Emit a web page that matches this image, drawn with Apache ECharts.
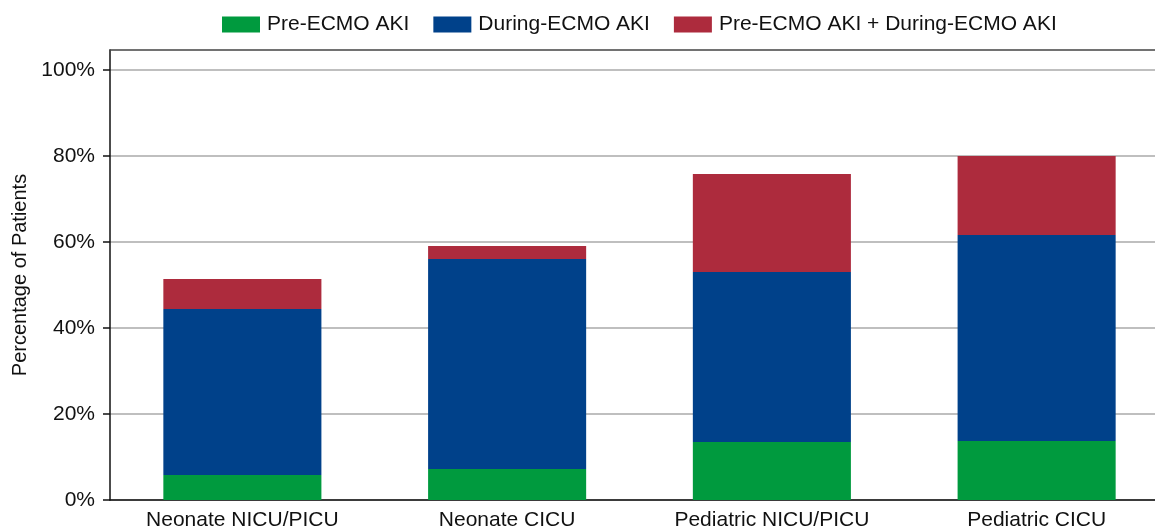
<!DOCTYPE html>
<html>
<head>
<meta charset="utf-8">
<script src="https://cdn.jsdelivr.net/npm/echarts@6/dist/echarts.min.js"></script>
<style>
  html, body { margin: 0; padding: 0; background: #fff; }
  #chart { width: 1155px; height: 527px; }
</style>
</head>
<body>
<div id="chart"></div>
<script>
let categories = ['Neonate NICU/PICU', 'Neonate CICU', 'Pediatric NICU/PICU', 'Pediatric CICU']
let seriesNames = ['Pre-ECMO AKI', 'During-ECMO AKI', 'Pre-ECMO AKI + During-ECMO AKI']

// each segment of the stack, in percent
let preEcmo = [5.8, 7.2, 13.5, 13.7]
let duringEcmo = [38.6, 48.85, 39.5, 47.9]
let bothAki = [7.0, 3.0, 22.8, 18.4]

let yTicks = [0, 20, 40, 60, 80, 100]

let colors = ['#009a3e', '#00418a', '#ad2b3d']
let font = 'Liberation Sans, Arial, Helvetica, sans-serif'

let myChart = echarts.init(document.getElementById('chart'))

function bar(name, data, color) {
  return {
    name: name,
    type: 'bar',
    stack: 'aki',
    barWidth: '59.7%',
    data: data,
    itemStyle: { color: color },
    emphasis: { disabled: true }
  }
}

let opt = {
  animation: false,
  textStyle: { fontFamily: font },
  legend: {
    data: seriesNames.map(n => ({ name: n, icon: 'rect' })),
    left: 217,
    top: 9,
    itemWidth: 38,
    itemHeight: 16,
    itemGap: 24,
    textStyle: { fontFamily: font, fontSize: 21, color: '#111', padding: [0, 0, 0, 2] }
  },
  grid: {
    left: 110,
    right: -14,
    top: 50,
    bottom: 27,
    outerBoundsMode: 'none'
  },
  xAxis: [{
    type: 'category',
    data: categories,
    axisLine: { lineStyle: { color: '#111', width: 1.5 } },
    axisTick: { show: false },
    axisLabel: { fontFamily: font, fontSize: 21, color: '#111', margin: 10 }
  }, {
    // top border of the plot box
    type: 'category',
    position: 'top',
    data: categories,
    axisLine: { lineStyle: { color: '#444', width: 1.5 } },
    axisTick: { show: false },
    axisLabel: { show: false }
  }],
  yAxis: {
    type: 'value',
    min: 0,
    max: 104.65,
    interval: 20,
    name: 'Percentage of Patients',
    nameLocation: 'middle',
    nameGap: 80,
    nameTextStyle: { fontFamily: font, fontSize: 20, color: '#111' },
    axisLine: { show: true, lineStyle: { color: '#111', width: 1.5 } },
    axisTick: { show: true, length: 7, customValues: yTicks, lineStyle: { color: '#111', width: 1.5 } },
    axisLabel: {
      customValues: yTicks,
      fontFamily: font,
      fontSize: 21,
      color: '#111',
      margin: 15,
      formatter: v => v + '%'
    },
    splitLine: { show: true, lineStyle: { color: '#aaaaaa', width: 1.5 } }
  },
  series: [
    bar(seriesNames[0], preEcmo, colors[0]),
    bar(seriesNames[1], duringEcmo, colors[1]),
    bar(seriesNames[2], bothAki, colors[2])
  ]
}

myChart.setOption(opt)
</script>
</body>
</html>
